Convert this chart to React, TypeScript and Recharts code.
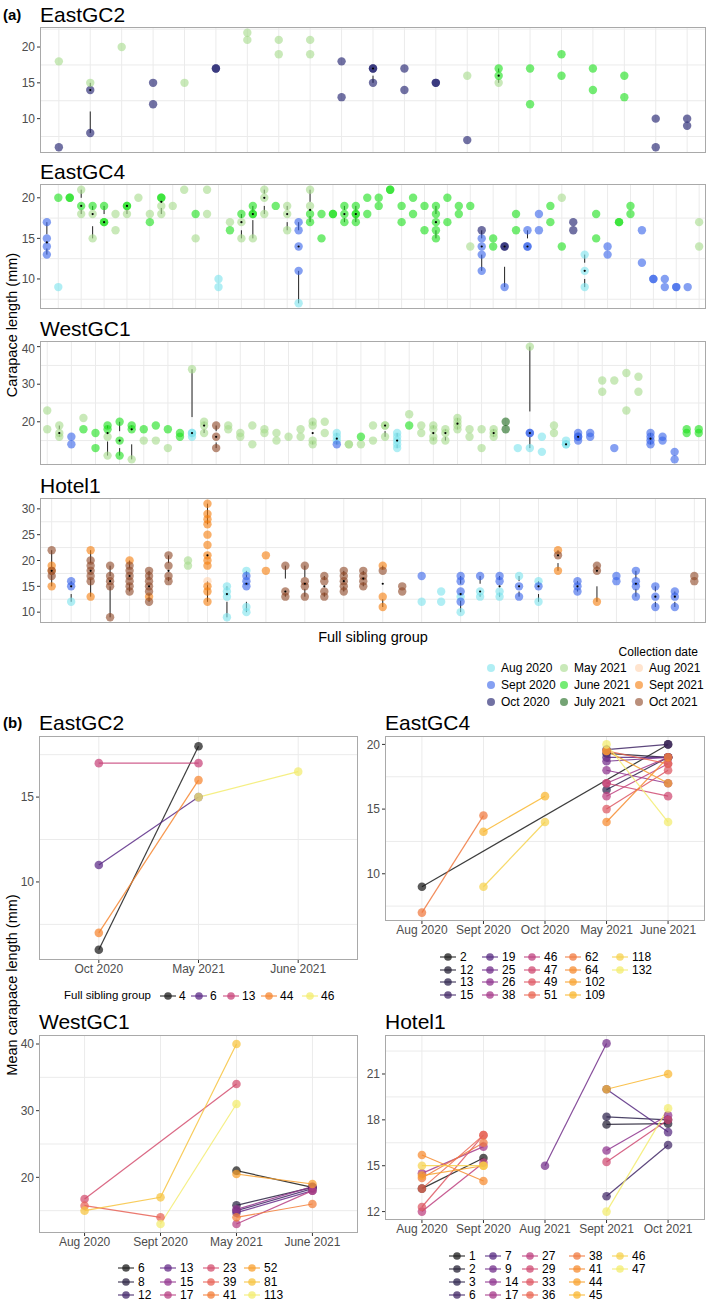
import React from 'react';
import {
  ComposedChart,
  Scatter,
  Line,
  XAxis,
  YAxis,
  CartesianGrid,
  ReferenceLine,
  ReferenceDot,
} from 'recharts';

type Pt = [string, number];

// ---- (a) collection dates ----
const dateCodes = ['A0', 'S0', 'O0', 'M1', 'J1', 'Jy', 'A1', 'S1', 'O1'];
const dateLabels = ['Aug 2020', 'Sept 2020', 'Oct 2020', 'May 2021', 'June 2021', 'July 2021', 'Aug 2021', 'Sept 2021', 'Oct 2021'];
const dateColors = ['#7fe3ee', '#3a66ea', '#1a1a6b', '#a8db8e', '#1ee01e', '#1f6b1f', '#ffd3b0', '#f58010', '#8f4a2a'];

const eastGC2Groups: Pt[][] = [
  [['M1', 18], ['O0', 6]],
  [['M1', 15], ['O0', 14], ['O0', 8]],
  [['M1', 20]],
  [['O0', 15], ['O0', 12]],
  [['M1', 15]],
  [['O0', 17], ['O0', 17]],
  [['M1', 22], ['M1', 21]],
  [['M1', 21], ['M1', 19]],
  [['M1', 21], ['M1', 19]],
  [['O0', 18], ['O0', 13]],
  [['O0', 17], ['O0', 17], ['O0', 15]],
  [['O0', 17], ['O0', 14]],
  [['O0', 15], ['O0', 15]],
  [['M1', 16], ['O0', 7]],
  [['J1', 17], ['J1', 16], ['M1', 15]],
  [['J1', 17], ['J1', 12]],
  [['J1', 19], ['J1', 16]],
  [['J1', 17], ['J1', 14]],
  [['J1', 16], ['J1', 13]],
  [['O0', 10], ['O0', 6]],
  [['O0', 10], ['O0', 9]],
];

const eastGC4Groups: Pt[][] = [
  [['S0', 17], ['S0', 15], ['S0', 14], ['S0', 13]],
  [['J1', 20], ['A0', 9]],
  [['J1', 20], ['J1', 20]],
  [['M1', 21], ['J1', 19], ['M1', 18]],
  [['J1', 19], ['M1', 18], ['M1', 15]],
  [['J1', 19], ['J1', 17], ['J1', 17]],
  [['M1', 18], ['M1', 16]],
  [['J1', 19], ['J1', 19], ['M1', 18]],
  [['M1', 20]],
  [['M1', 18], ['J1', 17]],
  [['J1', 20], ['J1', 20], ['M1', 19], ['M1', 18]],
  [['M1', 19]],
  [['M1', 21]],
  [['J1', 18], ['M1', 15]],
  [['M1', 21], ['M1', 18]],
  [['A0', 10], ['A0', 9]],
  [['M1', 17], ['J1', 16]],
  [['J1', 18], ['M1', 17], ['M1', 15]],
  [['J1', 19], ['J1', 18], ['J1', 18], ['M1', 15]],
  [['M1', 21], ['M1', 20], ['M1', 18]],
  [['J1', 19]],
  [['M1', 19], ['M1', 18], ['M1', 16]],
  [['S0', 17], ['S0', 16], ['S0', 14], ['S0', 11], ['A0', 7]],
  [['M1', 21], ['M1', 19], ['J1', 18], ['J1', 17]],
  [['J1', 18], ['J1', 15]],
  [['J1', 18], ['J1', 18]],
  [['J1', 19], ['J1', 18], ['J1', 17]],
  [['J1', 19], ['J1', 18], ['J1', 18], ['J1', 17]],
  [['J1', 20], ['J1', 18]],
  [['J1', 20], ['J1', 19]],
  [['J1', 21], ['J1', 21]],
  [['J1', 19], ['J1', 17]],
  [['J1', 20], ['J1', 18]],
  [['J1', 19], ['J1', 16]],
  [['J1', 19], ['J1', 18], ['J1', 17], ['J1', 16], ['J1', 15]],
  [['J1', 20], ['J1', 17]],
  [['J1', 19], ['J1', 18]],
  [['J1', 19], ['M1', 14]],
  [['O0', 16], ['S0', 15], ['S0', 14], ['S0', 13], ['S0', 11]],
  [['J1', 15], ['J1', 14]],
  [['O0', 14], ['O0', 14], ['S0', 9]],
  [['J1', 18], ['J1', 16]],
  [['S0', 16], ['S0', 14], ['S0', 14]],
  [['S0', 18], ['S0', 16]],
  [['J1', 19], ['J1', 17]],
  [['M1', 20], ['J1', 14]],
  [['O0', 17], ['O0', 16]],
  [['A0', 13], ['A0', 11], ['A0', 9]],
  [['J1', 18], ['J1', 15]],
  [['S0', 14], ['S0', 13]],
  [['J1', 17], ['J1', 17]],
  [['J1', 19], ['J1', 18]],
  [['S0', 16], ['S0', 12]],
  [['S0', 10], ['S0', 10]],
  [['S0', 10], ['S0', 9]],
  [['S0', 9], ['S0', 9]],
  [['S0', 9]],
  [['M1', 17], ['M1', 14]],
];

const westGC1Groups: Pt[][] = [
  [['M1', 23], ['M1', 18]],
  [['M1', 19], ['M1', 17], ['M1', 16]],
  [['S0', 16], ['S0', 14]],
  [['M1', 21], ['J1', 18]],
  [['J1', 17], ['J1', 13]],
  [['J1', 19], ['J1', 18], ['M1', 16], ['M1', 11]],
  [['J1', 20], ['J1', 15], ['J1', 11]],
  [['J1', 19], ['J1', 18], ['M1', 10]],
  [['J1', 18], ['M1', 15]],
  [['J1', 19], ['M1', 15]],
  [['J1', 18], ['M1', 13]],
  [['J1', 17], ['J1', 16]],
  [['M1', 34], ['A0', 17], ['A0', 17], ['A0', 16]],
  [['M1', 20], ['M1', 19], ['M1', 17]],
  [['O1', 19], ['O1', 16], ['O1', 13]],
  [['M1', 19], ['M1', 18]],
  [['M1', 17], ['M1', 16]],
  [['M1', 19], ['M1', 14]],
  [['M1', 18], ['M1', 17]],
  [['M1', 17], ['M1', 15]],
  [['M1', 16]],
  [['M1', 18], ['M1', 16]],
  [['M1', 20], ['M1', 19], ['M1', 15], ['M1', 14]],
  [['M1', 20], ['M1', 17]],
  [['A0', 17], ['A0', 16], ['A0', 15], ['S0', 14]],
  [['M1', 14], ['M1', 14]],
  [['J1', 16], ['M1', 14]],
  [['M1', 19], ['M1', 15]],
  [['M1', 19], ['M1', 19], ['M1', 16]],
  [['A0', 17], ['A0', 16], ['A0', 15], ['A0', 14], ['A0', 13]],
  [['M1', 22], ['J1', 19]],
  [['M1', 19], ['M1', 17]],
  [['M1', 19], ['M1', 18], ['M1', 16], ['M1', 15]],
  [['M1', 18], ['M1', 17], ['M1', 15]],
  [['M1', 21], ['M1', 20], ['M1', 19], ['M1', 18]],
  [['M1', 18], ['M1', 16]],
  [['M1', 18], ['M1', 13]],
  [['M1', 18], ['M1', 17], ['M1', 16]],
  [['Jy', 20], ['Jy', 18]],
  [['A0', 13]],
  [['M1', 40], ['S0', 17], ['S0', 17], ['A0', 13]],
  [['A0', 16], ['A0', 12]],
  [['M1', 19], ['M1', 17]],
  [['A0', 15], ['A0', 14], ['A0', 14]],
  [['S0', 17], ['S0', 16], ['S0', 16], ['S0', 15]],
  [['S0', 17], ['S0', 16]],
  [['M1', 31], ['M1', 28]],
  [['M1', 31], ['S0', 13]],
  [['M1', 33], ['M1', 23]],
  [['M1', 32], ['M1', 28]],
  [['S0', 17], ['S0', 16], ['S0', 15], ['S0', 14]],
  [['S0', 16], ['S0', 15]],
  [['S0', 12], ['S0', 10]],
  [['J1', 18], ['J1', 17]],
  [['J1', 18], ['J1', 17]],
];

const hotel1Groups: Pt[][] = [
  [['O1', 22], ['S1', 19], ['S1', 18], ['O1', 18], ['O1', 17], ['S1', 15]],
  [['S0', 16], ['S0', 15], ['A0', 12]],
  [['S1', 22], ['O1', 20], ['O1', 19], ['O1', 18], ['O1', 17], ['O1', 16], ['S1', 13]],
  [['O1', 19], ['O1', 17], ['O1', 16], ['O1', 15], ['O1', 9]],
  [['S1', 20], ['O1', 19], ['O1', 18], ['O1', 17], ['O1', 16], ['O1', 15], ['O1', 14]],
  [['O1', 18], ['O1', 17], ['O1', 16], ['O1', 15], ['O1', 14], ['O1', 12], ['S1', 13]],
  [['O1', 21], ['O1', 19], ['O1', 17], ['O1', 16]],
  [['M1', 20], ['M1', 19]],
  [['S1', 31], ['S1', 29], ['S1', 28], ['S1', 27], ['S1', 25], ['S1', 23], ['S1', 21], ['S1', 20], ['S1', 19], ['S1', 15], ['S1', 14], ['S1', 12], ['A1', 16]],
  [['A0', 15], ['A0', 14], ['A0', 13], ['A0', 9]],
  [['S0', 17], ['S0', 16], ['S0', 15], ['A0', 18], ['A0', 11], ['A0', 10]],
  [['S1', 21], ['S1', 18]],
  [['O1', 19], ['O1', 14], ['O1', 13]],
  [['O1', 19], ['O1', 16], ['O1', 15], ['O1', 13]],
  [['O1', 17], ['O1', 16], ['O1', 14], ['O1', 13]],
  [['O1', 18], ['O1', 17], ['O1', 16], ['O1', 15], ['O1', 14]],
  [['O1', 18], ['O1', 17], ['O1', 16], ['O1', 15]],
  [['S1', 19], ['O1', 18], ['S1', 13], ['S1', 11]],
  [['O1', 15], ['O1', 14]],
  [['S0', 17], ['A0', 12]],
  [['A0', 14], ['A0', 12]],
  [['S0', 17], ['S0', 16], ['S0', 14], ['S0', 12], ['A0', 13], ['A0', 10]],
  [['S0', 17], ['A0', 14], ['A0', 13]],
  [['S0', 17], ['S0', 16], ['A0', 14], ['A0', 13]],
  [['S0', 15], ['S0', 13], ['A0', 17]],
  [['S0', 15], ['A0', 16], ['A0', 12]],
  [['S1', 22], ['O1', 21], ['S1', 18]],
  [['S0', 16], ['S0', 15], ['S0', 14]],
  [['O1', 19], ['O1', 18], ['S1', 12]],
  [['S0', 17], ['S0', 16]],
  [['S0', 18], ['S0', 16], ['S0', 15], ['S0', 13]],
  [['S0', 15], ['S0', 13], ['S0', 11]],
  [['S0', 14], ['S0', 13], ['S0', 11]],
  [['O1', 17], ['O1', 16]],
];

// ---- (b) mean carapace length per full sibling group ----
const eastGC2Cats = ['Oct 2020', 'May 2021', 'June 2021'];
const eastGC2Sibs = ['4', '6', '13', '44', '46'];
const eastGC2Means: [number, number][][] = [
  [[0, 6], [1, 18]],
  [[0, 11], [1, 15]],
  [[0, 17], [1, 17]],
  [[0, 7], [1, 16]],
  [[1, 15], [2, 16.5]],
];

const eastGC4Cats = ['Aug 2020', 'Sept 2020', 'Oct 2020', 'May 2021', 'June 2021'];
const eastGC4Sibs = ['2', '12', '13', '15', '19', '25', '26', '38', '46', '47', '49', '51', '62', '64', '102', '109', '118', '132'];
const eastGC4Means: [number, number][][] = [
  [[0, 9], [4, 20]],
  [[3, 19.3], [4, 19]],
  [[3, 16.5], [4, 19]],
  [[3, 19.6], [4, 20]],
  [[3, 19], [4, 19]],
  [[3, 18.7], [4, 19]],
  [[3, 18], [4, 17]],
  [[3, 17], [4, 19]],
  [[3, 16], [4, 18.5]],
  [[3, 17], [4, 16]],
  [[3, 15], [4, 18]],
  [[3, 19.5], [4, 18.5]],
  [[0, 7], [1, 14.5]],
  [[3, 14], [4, 19]],
  [[3, 19.5], [4, 17]],
  [[1, 13.25], [2, 16]],
  [[1, 9], [2, 14]],
  [[3, 20], [4, 14]],
];

const westGC1Cats = ['Aug 2020', 'Sept 2020', 'May 2021', 'June 2021'];
const westGC1Sibs = ['6', '8', '12', '13', '15', '17', '23', '39', '41', '52', '81', '113'];
const westGC1Means: [number, number][][] = [
  [[2, 21], [3, 18.5]],
  [[2, 15.8], [3, 18.5]],
  [[2, 15], [3, 18.3]],
  [[2, 14.7], [3, 18]],
  [[2, 15.2], [3, 18.6]],
  [[2, 13], [3, 18]],
  [[0, 16.75], [2, 34]],
  [[0, 15.75], [1, 14]],
  [[2, 14], [3, 16]],
  [[2, 20.5], [3, 19]],
  [[0, 15], [1, 17], [2, 40]],
  [[1, 13], [2, 31]],
];

const hotel1Cats = ['Aug 2020', 'Sept 2020', 'Aug 2021', 'Sept 2021', 'Oct 2021'];
const hotel1Sibs = ['1', '2', '3', '6', '7', '9', '14', '17', '27', '29', '33', '36', '38', '41', '44', '45', '46', '47'];
const hotel1Means: [number, number][][] = [
  [[0, 13.5], [1, 15.5]],
  [[3, 17.7], [4, 17.75]],
  [[3, 18.2], [4, 18]],
  [[3, 13], [4, 16.35]],
  [[3, 20], [4, 17.2]],
  [[2, 15], [3, 23]],
  [[3, 16], [4, 18.3]],
  [[0, 14.5], [1, 16.25]],
  [[0, 12], [1, 15.2]],
  [[3, 15.25], [4, 18]],
  [[0, 12.3], [1, 17]],
  [[0, 13.5], [1, 17]],
  [[0, 14.2], [1, 16.5]],
  [[0, 15.7], [1, 14]],
  [[0, 14.35], [1, 15]],
  [[3, 20], [4, 21]],
  [[0, 15], [1, 15]],
  [[3, 12], [4, 18.75]],
];

const FONT = "'Liberation Sans', Arial, Helvetica, sans-serif";
const TICK = { fontSize: 12, fill: '#4d4d4d', fontFamily: FONT };
const GRID = '#ebebeb';
const BORDER = '#a9a9a9';

const paletteStops = ['#1b1b1b', '#2f2550', '#5b2a86', '#98358f', '#c8447a', '#e65f5a', '#f6852f', '#f9b42c', '#f3ec6e'];

function hexToRgb(h: string) {
  const n = parseInt(h.slice(1), 16);
  return [(n >> 16) & 255, (n >> 8) & 255, n & 255];
}

function paletteColor(t: number) {
  const pos = t * (paletteStops.length - 1);
  const i = Math.min(Math.floor(pos), paletteStops.length - 2);
  const f = pos - i;
  const a = hexToRgb(paletteStops[i]);
  const b = hexToRgb(paletteStops[i + 1]);
  const c = a.map((v, k) => Math.round(v + (b[k] - v) * f));
  return `rgb(${c[0]},${c[1]},${c[2]})`;
}

function quantile(sorted: number[], p: number) {
  const pos = (sorted.length - 1) * p;
  const lo = Math.floor(pos);
  const hi = Math.ceil(pos);
  return sorted[lo] + (sorted[hi] - sorted[lo]) * (pos - lo);
}

interface TxtProps {
  x: number;
  y: number;
  size: number;
  anchor?: 'start' | 'middle' | 'end';
  bold?: boolean;
  rotate?: boolean;
  color?: string;
  children: React.ReactNode;
}

const Txt = ({ x, y, size, anchor = 'start', bold, rotate, color = '#000', children }: TxtProps) => {
  const ax = anchor === 'start' ? '0' : anchor === 'middle' ? '-50%' : '-100%';
  return (
    <div
      style={{
        position: 'absolute',
        left: x,
        top: y,
        fontSize: size,
        lineHeight: 1,
        whiteSpace: 'nowrap',
        fontWeight: bold ? 700 : 400,
        color,
        transform: rotate ? 'translate(-50%, -50%) rotate(-90deg)' : `translate(${ax}, -50%)`,
      }}
    >
      {children}
    </div>
  );
};

// ---- (a) facet panel ----
const A_LEFT = 40;
const A_RIGHT = 706;

interface FacetSpec {
  title: string;
  groups: Pt[][];
  top: number;
  bottom: number;
  domain: [number, number];
  ticks: number[];
  minor: number[];
}

const facetSpecs: FacetSpec[] = [
  { title: 'EastGC2', groups: eastGC2Groups, top: 27, bottom: 153, domain: [5.2, 22.8], ticks: [10, 15, 20], minor: [7.5, 12.5, 17.5, 22.5] },
  { title: 'EastGC4', groups: eastGC4Groups, top: 184, bottom: 309, domain: [6.3, 21.7], ticks: [10, 15, 20], minor: [7.5, 12.5, 17.5] },
  { title: 'WestGC1', groups: westGC1Groups, top: 341, bottom: 465, domain: [8.5, 41.5], ticks: [10, 20, 30, 40], minor: [15, 25, 35] },
  { title: 'Hotel1', groups: hotel1Groups, top: 498, bottom: 623, domain: [7.9, 32.1], ticks: [10, 15, 20, 25, 30], minor: [12.5, 17.5, 22.5, 27.5] },
];

const FacetPanel = ({ spec }: { spec: FacetSpec }) => {
  const n = spec.groups.length;
  const height = spec.bottom - spec.top;
  const series = dateCodes.map(() => [] as { x: number; y: number }[]);
  spec.groups.forEach((g, i) =>
    g.forEach(([c, v]) => series[dateCodes.indexOf(c)].push({ x: i + 1, y: v }))
  );
  const stats = spec.groups
    .map((g, i) => {
      if (g.length < 3) return null;
      const s = g.map((p) => p[1]).sort((a, b) => a - b);
      return {
        x: i + 1,
        min: s[0],
        q1: quantile(s, 0.25),
        med: quantile(s, 0.5),
        q3: quantile(s, 0.75),
        max: s[s.length - 1],
      };
    })
    .filter((s): s is NonNullable<typeof s> => s !== null);

  return (
    <>
      <Txt x={A_LEFT} y={spec.top - 13} size={21}>{spec.title}</Txt>
      <div style={{ position: 'absolute', left: 0, top: spec.top }}>
        <ComposedChart width={A_RIGHT} height={height} margin={{ top: 0, right: 0, bottom: 0, left: 0 }}>
          <CartesianGrid
            stroke={GRID}
            horizontalValues={[...spec.ticks, ...spec.minor]}
            verticalValues={spec.groups.map((_, i) => i + 1)}
          />
          <XAxis type="number" dataKey="x" domain={[0.4, n + 0.6]} hide allowDataOverflow />
          <YAxis
            type="number"
            dataKey="y"
            domain={spec.domain}
            ticks={spec.ticks}
            width={A_LEFT}
            allowDataOverflow
            axisLine={false}
            tickLine={{ stroke: '#333' }}
            tickSize={3}
            tickMargin={2}
            tick={TICK}
          />
          {stats.map((s) => (
            <ReferenceLine
              key={`u${s.x}`}
              segment={[{ x: s.x, y: s.q3 }, { x: s.x, y: s.max }]}
              stroke="#222"
              strokeWidth={1}
            />
          ))}
          {stats.map((s) => (
            <ReferenceLine
              key={`l${s.x}`}
              segment={[{ x: s.x, y: s.min }, { x: s.x, y: s.q1 }]}
              stroke="#222"
              strokeWidth={1}
            />
          ))}
          {series.map((data, k) =>
            data.length ? (
              <Scatter
                key={dateCodes[k]}
                data={data}
                isAnimationActive={false}
                shape={(p: any) => (
                  <circle cx={p.cx} cy={p.cy} r={4.2} fill={dateColors[k]} fillOpacity={0.62} />
                )}
              />
            ) : null
          )}
          {stats.map((s) => (
            <ReferenceDot key={`m${s.x}`} x={s.x} y={s.med} r={1.1} fill="#000" stroke="none" />
          ))}
        </ComposedChart>
      </div>
      <div
        style={{
          position: 'absolute',
          left: A_LEFT,
          top: spec.top,
          width: A_RIGHT - A_LEFT,
          height,
          border: `1px solid ${BORDER}`,
          boxSizing: 'border-box',
          pointerEvents: 'none',
        }}
      />
    </>
  );
};

// ---- (b) trend panel ----
interface TrendSpec {
  title: string;
  cats: string[];
  sibs: string[];
  means: [number, number][][];
  left: number;
  top: number;
  width: number;
  yWidth: number;
  plotHeight: number;
  domain: [number, number];
  ticks: number[];
  minor: number[];
}

const trendSpecs: TrendSpec[] = [
  { title: 'EastGC2', cats: eastGC2Cats, sibs: eastGC2Sibs, means: eastGC2Means, left: 0, top: 736, width: 358, yWidth: 39, plotHeight: 224, domain: [5.4, 18.6], ticks: [10, 15], minor: [7.5, 12.5, 17.5] },
  { title: 'EastGC4', cats: eastGC4Cats, sibs: eastGC4Sibs, means: eastGC4Means, left: 350, top: 736, width: 355, yWidth: 35, plotHeight: 185, domain: [6.35, 20.65], ticks: [10, 15, 20], minor: [7.5, 12.5, 17.5] },
  { title: 'WestGC1', cats: westGC1Cats, sibs: westGC1Sibs, means: westGC1Means, left: 0, top: 1035, width: 358, yWidth: 39, plotHeight: 198, domain: [11.65, 41.35], ticks: [20, 30, 40], minor: [15, 25, 35] },
  { title: 'Hotel1', cats: hotel1Cats, sibs: hotel1Sibs, means: hotel1Means, left: 350, top: 1035, width: 355, yWidth: 35, plotHeight: 185, domain: [11.45, 23.55], ticks: [12, 15, 18, 21], minor: [13.5, 16.5, 19.5, 22.5] },
];

const TrendPanel = ({ spec }: { spec: TrendSpec }) => {
  const n = spec.cats.length;
  const m = spec.sibs.length;
  const colorOf = (i: number) => paletteColor(m > 1 ? i / (m - 1) : 0);
  const xh = 20;
  return (
    <>
      <Txt x={spec.left + spec.yWidth} y={spec.top - 14} size={21}>{spec.title}</Txt>
      <div style={{ position: 'absolute', left: spec.left, top: spec.top }}>
        <ComposedChart
          width={spec.width}
          height={spec.plotHeight + xh}
          margin={{ top: 0, right: 0, bottom: 0, left: 0 }}
        >
          <CartesianGrid
            stroke={GRID}
            horizontalValues={[...spec.ticks, ...spec.minor]}
            verticalValues={spec.cats.map((_, i) => i)}
          />
          <XAxis
            type="number"
            dataKey="x"
            domain={[-0.6, n - 0.4]}
            ticks={spec.cats.map((_, i) => i)}
            tickFormatter={(v: number) => spec.cats[v] ?? ''}
            interval={0}
            height={xh}
            allowDataOverflow
            axisLine={false}
            tickLine={{ stroke: '#333' }}
            tickSize={3}
            tickMargin={1}
            tick={TICK}
          />
          <YAxis
            type="number"
            dataKey="y"
            domain={spec.domain}
            ticks={spec.ticks}
            width={spec.yWidth}
            allowDataOverflow
            axisLine={false}
            tickLine={{ stroke: '#333' }}
            tickSize={3}
            tickMargin={2}
            tick={TICK}
          />
          {spec.means.map((pts, i) => (
            <Line
              key={`l${spec.sibs[i]}`}
              data={pts.map(([c, v]) => ({ x: c, y: v }))}
              dataKey="y"
              stroke={colorOf(i)}
              strokeOpacity={0.85}
              strokeWidth={1.2}
              dot={false}
              activeDot={false}
              isAnimationActive={false}
            />
          ))}
          {spec.means.map((pts, i) => (
            <Scatter
              key={`p${spec.sibs[i]}`}
              data={pts.map(([c, v]) => ({ x: c, y: v }))}
              isAnimationActive={false}
              shape={(p: any) => (
                <circle cx={p.cx} cy={p.cy} r={4.3} fill={colorOf(i)} fillOpacity={0.72} />
              )}
            />
          ))}
        </ComposedChart>
      </div>
      <div
        style={{
          position: 'absolute',
          left: spec.left + spec.yWidth,
          top: spec.top,
          width: spec.width - spec.yWidth,
          height: spec.plotHeight,
          border: `1px solid ${BORDER}`,
          boxSizing: 'border-box',
          pointerEvents: 'none',
        }}
      />
    </>
  );
};

// ---- legends ----
const LineKey = ({ x, y, color }: { x: number; y: number; color: string }) => (
  <svg
    width={16}
    height={10}
    style={{ position: 'absolute', left: x - 8, top: y - 5, overflow: 'visible' }}
  >
    <line x1={0} y1={5} x2={16} y2={5} stroke={color} strokeOpacity={0.85} strokeWidth={1.2} />
    <circle cx={8} cy={5} r={3.8} fill={color} fillOpacity={0.75} />
  </svg>
);

interface SibLegendSpec {
  sibs: string[];
  rows: number;
  colX: number[];
  rowY: number[];
}

const SibLegend = ({ spec }: { spec: SibLegendSpec }) => {
  const m = spec.sibs.length;
  return (
    <>
      {spec.sibs.map((s, i) => {
        const col = Math.floor(i / spec.rows);
        const row = i % spec.rows;
        const x = spec.colX[col];
        const y = spec.rowY[row];
        const c = paletteColor(m > 1 ? i / (m - 1) : 0);
        return (
          <React.Fragment key={s}>
            <LineKey x={x} y={y} color={c} />
            <Txt x={x + 12} y={y} size={12}>{s}</Txt>
          </React.Fragment>
        );
      })}
    </>
  );
};

const sibLegends: SibLegendSpec[] = [
  { sibs: eastGC4Sibs, rows: 4, colX: [448, 490, 532, 573, 620], rowY: [957, 969.5, 982, 995] },
  { sibs: westGC1Sibs, rows: 3, colX: [126, 168, 211, 252], rowY: [1268, 1281.5, 1295] },
  { sibs: hotel1Sibs, rows: 4, colX: [457, 493, 530, 577, 620], rowY: [1256, 1268.5, 1281.5, 1295] },
];

const eastGC2LegendX = [168, 199, 231, 269, 310];

const App = () => {
  return (
    <div
      style={{
        position: 'absolute',
        left: 0,
        top: 0,
        width: 709,
        height: 1301,
        background: '#fff',
        fontFamily: FONT,
        overflow: 'hidden',
      }}
    >
      <Txt x={3} y={14} size={15} bold>(a)</Txt>
      {facetSpecs.map((s) => (
        <FacetPanel key={s.title} spec={s} />
      ))}
      <Txt x={12} y={325} size={14.5} rotate>Carapace length (mm)</Txt>
      <Txt x={373} y={637} size={14.5} anchor="middle">Full sibling group</Txt>

      <Txt x={698} y={652} size={12} anchor="end">Collection date</Txt>
      {dateLabels.map((lab, k) => {
        const col = Math.floor(k / 3);
        const row = k % 3;
        const x = [491, 564, 639][col];
        const y = [668, 685, 702][row];
        return (
          <React.Fragment key={lab}>
            <svg width={10} height={10} style={{ position: 'absolute', left: x - 5, top: y - 5 }}>
              <circle cx={5} cy={5} r={4} fill={dateColors[k]} fillOpacity={0.62} />
            </svg>
            <Txt x={x + 10} y={y} size={12}>{lab}</Txt>
          </React.Fragment>
        );
      })}

      <Txt x={3} y={722} size={15} bold>(b)</Txt>
      {trendSpecs.map((s) => (
        <TrendPanel key={s.title} spec={s} />
      ))}
      <Txt x={12} y={985} size={14.5} rotate>Mean carapace length (mm)</Txt>

      <Txt x={64} y={996} size={11.5}>Full sibling group</Txt>
      {eastGC2Sibs.map((s, i) => {
        const c = paletteColor(i / (eastGC2Sibs.length - 1));
        return (
          <React.Fragment key={s}>
            <LineKey x={eastGC2LegendX[i]} y={996} color={c} />
            <Txt x={eastGC2LegendX[i] + 11} y={996} size={12}>{s}</Txt>
          </React.Fragment>
        );
      })}
      {sibLegends.map((l, i) => (
        <SibLegend key={i} spec={l} />
      ))}
    </div>
  );
};

export default App;
